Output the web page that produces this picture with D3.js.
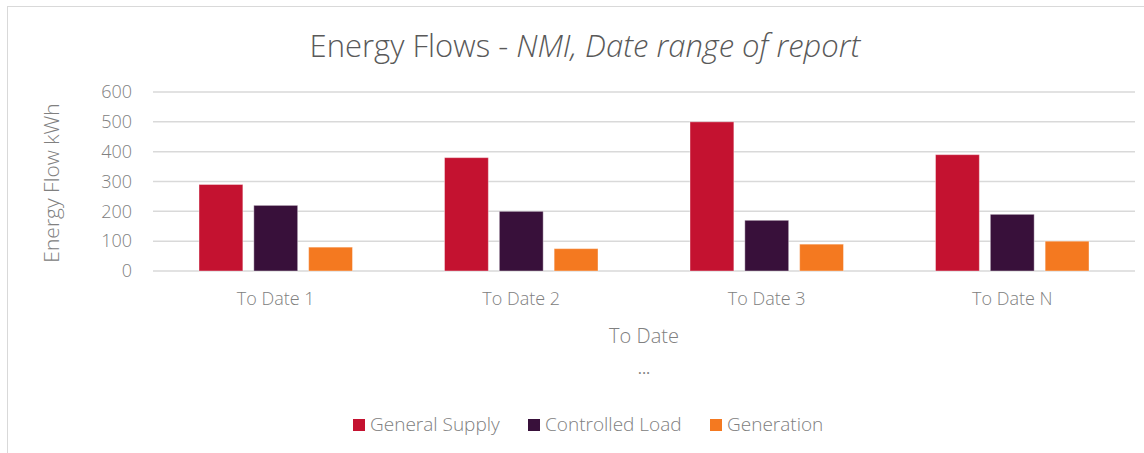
<!DOCTYPE html>
<html>
<head>
<meta charset="utf-8">
<script src="https://cdn.jsdelivr.net/npm/d3@7"></script>
<style>
  body { margin: 0; background: #fff; }
  text { font-family: "Open Sans", "Noto Sans", sans-serif; }
</style>
</head>
<body>
<svg width="1144" height="453"></svg>
<script>
const categories = ['To Date 1', 'To Date 2', 'To Date 3', 'To Date N']
const seriesNames = ['General Supply', 'Controlled Load', 'Generation']
const generalSupply = [290, 380, 500, 390]
const controlledLoad = [220, 200, 170, 190]
const generation = [80, 75, 90, 100]
const yTicks = [0, 100, 200, 300, 400, 500, 600]
const colors = ['#C41230', '#38103A', '#F47920']

const series = [generalSupply, controlledLoad, generation]
const table = categories.map((c, i) => ({
  cat: c,
  values: series.map((s, j) => ({ key: seriesNames[j], value: s[i] }))
}))

const margin = { top: 92, left: 153, right: 9, bottom: 182 }
const width = 1144 - margin.left - margin.right
const height = 453 - margin.top - margin.bottom

const svg = d3.select('svg')

// chart frame
svg.append('rect')
  .attr('x', 7.5).attr('y', 6.5)
  .attr('width', 1150).attr('height', 460)
  .attr('fill', 'none')
  .attr('stroke', '#d9d9d9')

const g = svg.append('g')
  .attr('transform', `translate(${margin.left},${margin.top})`)

const x0 = d3.scaleBand()
  .domain(categories)
  .range([0, width])
  .padding(0)

const x1 = d3.scaleBand()
  .domain(seriesNames)
  .range([46, x0.bandwidth() - 46])
  .paddingInner(0.2)

const y = d3.scaleLinear()
  .domain([0, 600])
  .range([height, 0])

const color = d3.scaleOrdinal().domain(seriesNames).range(colors)

// gridlines
g.append('g')
  .selectAll('line')
  .data(yTicks)
  .join('line')
    .attr('x1', 0).attr('x2', width)
    .attr('y1', d => y(d)).attr('y2', d => y(d))
    .attr('stroke', '#d9d9d9')
    .attr('stroke-width', 1.5)

// y axis labels
const yAxis = g.append('g')
  .call(d3.axisLeft(y).tickValues(yTicks).tickSize(0).tickPadding(21))
yAxis.select('.domain').remove()
yAxis.selectAll('text')
  .attr('fill', '#808080')
  .style('font-size', '18px')
  .style('font-weight', 300)
  .style('font-family', '"Open Sans", sans-serif')

// x axis labels
const xAxis = g.append('g')
  .attr('transform', `translate(0,${height})`)
  .call(d3.axisBottom(x0).tickSize(0).tickPadding(21))
xAxis.select('.domain').remove()
xAxis.selectAll('text')
  .attr('fill', '#808080')
  .style('font-size', '18px')
  .style('font-weight', 300)
  .style('font-family', '"Open Sans", sans-serif')

// bars
g.append('g')
  .selectAll('g')
  .data(table)
  .join('g')
    .attr('transform', d => `translate(${x0(d.cat)},0)`)
  .selectAll('rect')
  .data(d => d.values)
  .join('rect')
    .attr('x', d => x1(d.key))
    .attr('y', d => y(d.value))
    .attr('width', x1.bandwidth())
    .attr('height', d => height - y(d.value))
    .attr('fill', d => color(d.key))
    .attr('stroke', '#fff')
    .attr('stroke-opacity', 0.4)
    .attr('stroke-width', 1)

// title
const title = svg.append('text')
  .attr('x', 585).attr('y', 57)
  .attr('text-anchor', 'middle')
  .attr('fill', '#595959')
  .style('font-size', '31px')
  .style('font-weight', 300)
title.append('tspan').text('Energy Flows - ')
title.append('tspan').style('font-style', 'italic').text('NMI, Date range of report')

// axis titles
svg.append('text')
  .attr('transform', 'translate(59,183) rotate(-90)')
  .attr('text-anchor', 'middle')
  .attr('fill', '#808080')
  .style('font-size', '21px')
  .style('font-weight', 300)
  .text('Energy Flow kWh')

svg.append('text')
  .attr('x', 644).attr('y', 343)
  .attr('text-anchor', 'middle')
  .attr('fill', '#808080')
  .style('font-size', '20px')
  .style('font-weight', 300)
  .text('To Date')

svg.append('text')
  .attr('x', 644).attr('y', 374)
  .attr('text-anchor', 'middle')
  .attr('fill', '#808080')
  .style('font-size', '16px')
  .text('...')

// legend
const legendX = [353, 528, 710]
const legend = svg.append('g')
  .selectAll('g')
  .data(seriesNames)
  .join('g')
    .attr('transform', (d, i) => `translate(${legendX[i]},419)`)
legend.append('rect')
  .attr('width', 12).attr('height', 12)
  .attr('fill', d => color(d))
legend.append('text')
  .attr('x', 17).attr('y', 12)
  .attr('fill', '#808080')
  .style('font-size', '19px')
  .style('font-weight', 300)
  .text(d => d)
</script>
</body>
</html>
